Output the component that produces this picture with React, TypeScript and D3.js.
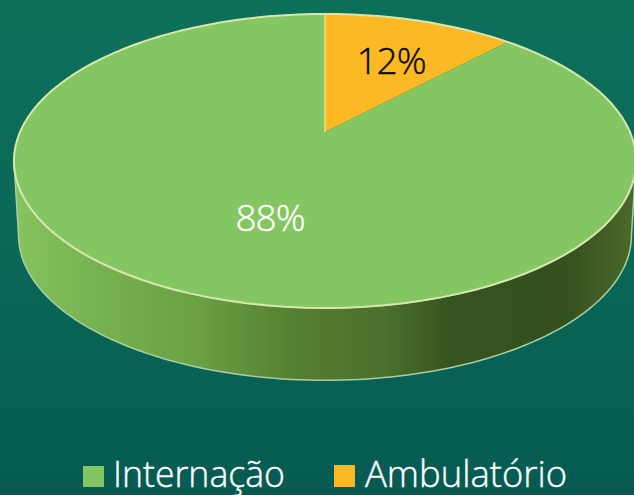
import React from 'react';
import * as d3 from 'd3';

const categories = ['Ambulatório', 'Internação'];
const values = [12, 88];
const sliceColors = ['#fdb923', '#84c661'];
const labelColors = ['#0a0a0a', '#ffffff'];
const legendOrder = ['Internação', 'Ambulatório'];

const W = 634, H = 495;
const cx = 325, apexY = 132, rx = 305, ry = 141.3, k = -0.197, depth = 75;

const project = (t: number, sx = 1, dy = 0): [number, number] => {
  const u = Math.sin(t), v = -Math.cos(t);
  const w = 1 + k * v;
  return [cx + (sx * rx * u) / w, apexY + dy + (sx * ry * v) / w];
};
const line = d3.line();
const sweep = (a: number, b: number, sx = 1, dy = 0) =>
  d3.range(0, 121).map((i) => project(a + ((b - a) * i) / 120, sx, dy));

export default function App() {
  const arcs = d3.pie<number>().sort(null)(values);
  const shoulder = Math.acos(k);
  const sideLeft = 2 * Math.PI - shoulder;
  const side = [...sweep(shoulder, sideLeft), ...sweep(sideLeft, shoulder, 0.985, depth)];
  const apex = project(0, 0);
  const stops: [number, string][] = [
    [0, '#86c45f'], [0.12, '#78b451'], [0.3, '#6a9f42'], [0.45, '#557f31'],
    [0.6, '#4a702c'], [0.7, '#36541f'], [0.88, '#33501e'], [1, '#4c6a2a'],
  ];
  return (
    <svg width={W} height={H} style={{ position: 'fixed', left: 0, top: 0 }} viewBox={`0 0 ${W} ${H}`}>
      <defs>
        <linearGradient id="bg" x1="0" y1="0" x2="0" y2="1">
          <stop offset="0" stopColor="#0d7059" />
          <stop offset="0.5" stopColor="#0a6857" />
          <stop offset="1" stopColor="#065a52" />
        </linearGradient>
        <linearGradient id="side" x1="0" y1="0" x2="1" y2="0">
          {stops.map(([o, c]) => <stop key={o} offset={o} stopColor={c} />)}
        </linearGradient>
      </defs>
      <rect width={W} height={H} fill="url(#bg)" />
      <path d={(line(side) ?? '') + 'Z'} fill="url(#side)" stroke="#a9cfa0" strokeWidth={1.5} />
      {arcs.map((a, i) => (
        <path key={categories[i]} d={(line([apex, ...sweep(a.startAngle, a.endAngle)]) ?? '') + 'Z'} fill={sliceColors[i]} />
      ))}
      <path d={(line(sweep(0, 2 * Math.PI)) ?? '') + 'Z'} fill="none" stroke="#d8e6ae" strokeWidth={2} />
      <path d={line([apex, project(0)]) ?? ''} stroke="#f3e27a" strokeWidth={1.5} fill="none" />
      <g fontFamily="'Open Sans', sans-serif" fontWeight={300} fontSize={37} textAnchor="middle" letterSpacing={-1} strokeWidth={0.4}>
        <text x={391} y={74} fill={labelColors[0]} stroke={labelColors[0]}>{values[0]}%</text>
        <text x={270} y={231} fill={labelColors[1]} stroke={labelColors[1]}>{values[1]}%</text>
      </g>
      <g fontFamily="'Open Sans', sans-serif" fontWeight={300} fontSize={36} fill="#ffffff">
        <rect x={83} y={466} width={21} height={21} fill={sliceColors[1]} />
        <text x={113} y={487} textLength={172} lengthAdjust="spacingAndGlyphs" stroke="#ffffff" strokeWidth={0.4}>{legendOrder[0]}</text>
        <rect x={334} y={465} width={21} height={22} fill={sliceColors[0]} />
        <text x={365} y={487} textLength={202} lengthAdjust="spacingAndGlyphs" stroke="#ffffff" strokeWidth={0.4}>{legendOrder[1]}</text>
      </g>
    </svg>
  );
}
